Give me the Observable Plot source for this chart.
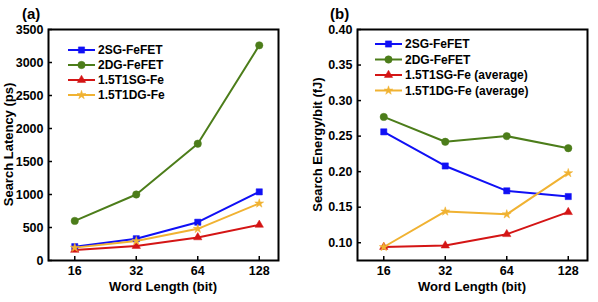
<!DOCTYPE html>
<html>
<head>
<meta charset="utf-8">
<script src="https://cdn.jsdelivr.net/npm/d3@7"></script>
<script src="https://cdn.jsdelivr.net/npm/@observablehq/plot@0.6"></script>
<style>
  html, body { margin: 0; padding: 0; background: #fff; }
  #wrap { display: flex; width: 598px; height: 302px; }
  #wrap > div { width: 299px; height: 302px; }
</style>
</head>
<body>
<div id="wrap"><div id="a"></div><div id="b"></div></div>
<script>
const wordLengths = [16, 32, 64, 128];

const seriesLatency = ["2SG-FeFET", "2DG-FeFET", "1.5T1SG-Fe", "1.5T1DG-Fe"];
const seriesEnergy = ["2SG-FeFET", "2DG-FeFET", "1.5T1SG-Fe (average)", "1.5T1DG-Fe (average)"];

// Search latency (ps)
const lat2SG = [210, 330, 580, 1040];
const lat2DG = [600, 1000, 1770, 3260];
const lat15SG = [160, 220, 350, 540];
const lat15DG = [195, 295, 480, 865];

// Search energy per bit (fJ)
const en2SG = [0.256, 0.208, 0.173, 0.165];
const en2DG = [0.277, 0.242, 0.250, 0.233];
const en15SG = [0.094, 0.096, 0.112, 0.143];
const en15DG = [0.094, 0.144, 0.140, 0.198];

const latencyTicks = [0, 500, 1000, 1500, 2000, 2500, 3000, 3500];
const energyTicks = [0.10, 0.15, 0.20, 0.25, 0.30, 0.35, 0.40];

const colors = ["#1010f5", "#4c7d1a", "#d41515", "#f0b232"];
const symbols = ["square", "circle", "triangle", "star"];
const symbolR = [3.5, 3.7, 3.1, 2.8];

const FONT = "'Liberation Sans', Arial, Helvetica, sans-serif";

function makePanel(el, opts) {
  const {names, values, yDomain, yTicks, yFormat, yLabel, margins, tag, legend} = opts;
  const marks = [];
  names.forEach((name, i) => {
    const rows = wordLengths.map((w, j) => ({w, v: values[i][j]}));
    marks.push(Plot.line(rows, {x: "w", y: "v", stroke: colors[i], strokeWidth: 2}));
  });
  names.forEach((name, i) => {
    const rows = wordLengths.map((w, j) => ({w, v: values[i][j]}));
    marks.push(Plot.dot(rows, {x: "w", y: "v", fill: colors[i], stroke: colors[i], strokeWidth: 0.5, symbol: symbols[i], r: symbolR[i]}));
  });
  const chart = Plot.plot({
    width: 299,
    height: 302,
    ...margins,
    style: {fontFamily: FONT, fontSize: "12.5px", fontWeight: "bold", color: "#000", background: "#fff", overflow: "visible"},
    x: {type: "log", base: 2, domain: [11.9, 159]},
    y: {domain: yDomain},
    marks: [
      Plot.axisX(wordLengths, {tickSize: -4, tickPadding: 10, tickFormat: d => String(d), label: null, strokeWidth: 1.5}),
      Plot.axisY(yTicks, {tickSize: -4, tickPadding: 9, tickFormat: yFormat, label: null, strokeWidth: 1.5}),
      ...marks,
      Plot.frame({stroke: "#000", strokeWidth: 2})
    ]
  });
  el.appendChild(chart);
  const svg = d3.select(chart);
  const L = margins.marginLeft, R = 299 - margins.marginRight, T = margins.marginTop, B = 302 - margins.marginBottom;
  // axis labels
  svg.append("text").attr("x", (L + R) / 2).attr("y", B + 31).attr("text-anchor", "middle")
    .style("font-size", "13px").style("font-weight", "bold").style("font-family", FONT).text("Word Length (bit)");
  svg.append("text").attr("transform", `translate(${opts.yLabelX},${(T + B) / 2}) rotate(-90)`)
    .attr("text-anchor", "middle").attr("dy", "0.36em")
    .style("font-size", "13px").style("font-weight", "bold").style("font-family", FONT).text(yLabel);
  // panel tag
  svg.append("text").attr("x", opts.tagX).attr("y", 19).attr("text-anchor", "start")
    .style("font-size", "15px").style("font-weight", "bold").style("font-family", FONT).text(tag);
  // legend
  names.forEach((name, i) => {
    const y = legend.y0 + legend.dy * i;
    const g = svg.append("g");
    g.append("line").attr("x1", legend.x0).attr("x2", legend.x1).attr("y1", y).attr("y2", y)
      .attr("stroke", colors[i]).attr("stroke-width", 2);
    const sym = {square: d3.symbolSquare, circle: d3.symbolCircle, triangle: d3.symbolTriangle, star: d3.symbolStar}[symbols[i]];
    g.append("path").attr("d", d3.symbol(sym, Math.PI * symbolR[i] * symbolR[i])())
      .attr("transform", `translate(${(legend.x0 + legend.x1) / 2},${y})`)
      .attr("fill", colors[i]).attr("stroke", colors[i]).attr("stroke-width", 0.5);
    g.append("text").attr("x", legend.x1 + 3).attr("y", y).attr("dy", "0.36em").attr("text-anchor", "start")
      .style("font-size", "12px").style("font-weight", "bold").style("font-family", FONT).text(name);
  });
}

makePanel(document.getElementById("a"), {
  names: seriesLatency,
  values: [lat2SG, lat2DG, lat15SG, lat15DG],
  yDomain: [0, 3500],
  yTicks: latencyTicks,
  yFormat: d => String(d),
  yLabel: "Search Latency (ps)",
  margins: {marginLeft: 48, marginRight: 21, marginTop: 29, marginBottom: 42},
  yLabelX: 8,
  tag: "(a)",
  tagX: 22,
  legend: {x0: 68, x1: 95, y0: 50, dy: 15}
});

makePanel(document.getElementById("b"), {
  names: seriesEnergy,
  values: [en2SG, en2DG, en15SG, en15DG],
  yDomain: [0.075, 0.40],
  yTicks: energyTicks,
  yFormat: d3.format(".2f"),
  yLabel: "Search Energy/bit (fJ)",
  margins: {marginLeft: 58, marginRight: 11, marginTop: 29, marginBottom: 42},
  yLabelX: 18,
  tag: "(b)",
  tagX: 31,
  legend: {x0: 76, x1: 103, y0: 44, dy: 15.5}
});
</script>
</body>
</html>
